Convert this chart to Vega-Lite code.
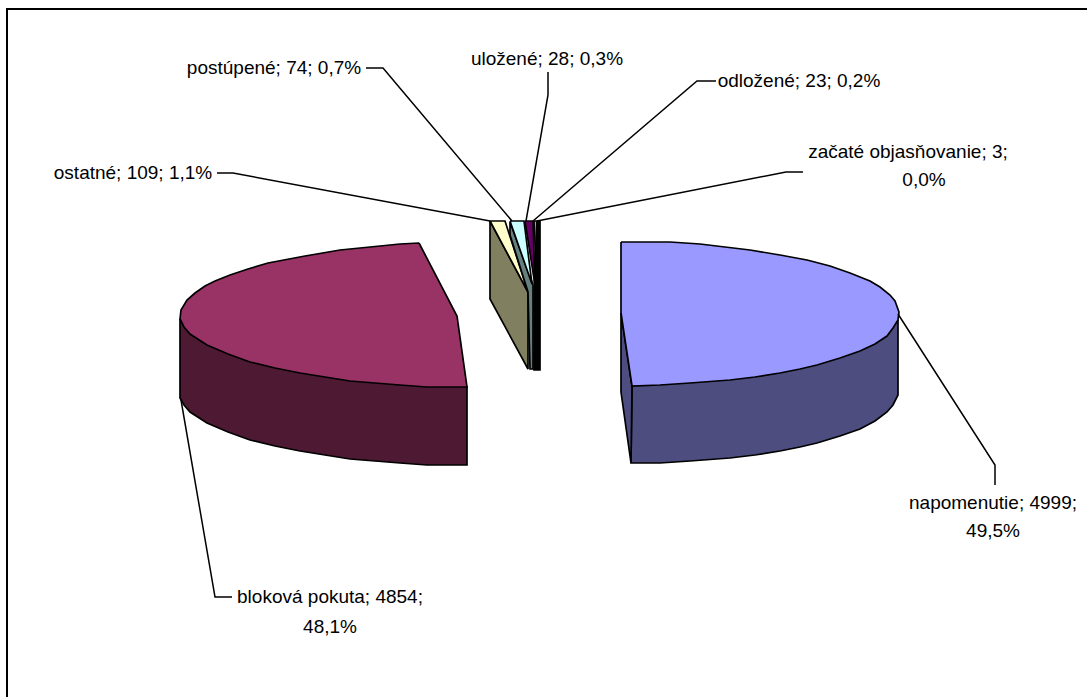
{
"$schema":"https://vega.github.io/schema/vega-lite/v6.json",
"width":1087,"height":697,"padding":0,"autosize":{"type":"none"},
"background":"white",
"config":{"view":{"stroke":null}},
"datasets":{
"shapes":[
{"part":"napomenutie bok","i":1,"x":898,"y":320},{"part":"napomenutie bok","i":2,"x":898,"y":395},{"part":"napomenutie bok","i":3,"x":893,"y":405},{"part":"napomenutie bok","i":4,"x":887,"y":412},{"part":"napomenutie bok","i":5,"x":875,"y":421},{"part":"napomenutie bok","i":6,"x":860,"y":429},{"part":"napomenutie bok","i":7,"x":840,"y":436},{"part":"napomenutie bok","i":8,"x":817,"y":443},{"part":"napomenutie bok","i":9,"x":800,"y":447},{"part":"napomenutie bok","i":10,"x":780,"y":451},{"part":"napomenutie bok","i":11,"x":755,"y":455},{"part":"napomenutie bok","i":12,"x":730,"y":458},{"part":"napomenutie bok","i":13,"x":690,"y":461},{"part":"napomenutie bok","i":14,"x":660,"y":463},{"part":"napomenutie bok","i":15,"x":631,"y":463},{"part":"napomenutie bok","i":16,"x":632,"y":386},{"part":"napomenutie bok","i":17,"x":898,"y":320},
{"part":"napomenutie rez","i":1,"x":621,"y":313},{"part":"napomenutie rez","i":2,"x":632,"y":386},{"part":"napomenutie rez","i":3,"x":631,"y":463},{"part":"napomenutie rez","i":4,"x":621,"y":392},{"part":"napomenutie rez","i":5,"x":621,"y":313},
{"part":"napomenutie","i":1,"x":621,"y":242},{"part":"napomenutie","i":2,"x":670,"y":242},{"part":"napomenutie","i":3,"x":700,"y":244},{"part":"napomenutie","i":4,"x":725,"y":247},{"part":"napomenutie","i":5,"x":750,"y":250},{"part":"napomenutie","i":6,"x":780,"y":255},{"part":"napomenutie","i":7,"x":807,"y":260},{"part":"napomenutie","i":8,"x":830,"y":266},{"part":"napomenutie","i":9,"x":850,"y":273},{"part":"napomenutie","i":10,"x":870,"y":281},{"part":"napomenutie","i":11,"x":880,"y":287},{"part":"napomenutie","i":12,"x":890,"y":295},{"part":"napomenutie","i":13,"x":895,"y":301},{"part":"napomenutie","i":14,"x":899,"y":312},{"part":"napomenutie","i":15,"x":898,"y":320},{"part":"napomenutie","i":16,"x":893,"y":328},{"part":"napomenutie","i":17,"x":887,"y":336},{"part":"napomenutie","i":18,"x":875,"y":344},{"part":"napomenutie","i":19,"x":860,"y":351},{"part":"napomenutie","i":20,"x":840,"y":358},{"part":"napomenutie","i":21,"x":817,"y":365},{"part":"napomenutie","i":22,"x":800,"y":369},{"part":"napomenutie","i":23,"x":780,"y":373},{"part":"napomenutie","i":24,"x":755,"y":377},{"part":"napomenutie","i":25,"x":730,"y":380},{"part":"napomenutie","i":26,"x":690,"y":383},{"part":"napomenutie","i":27,"x":660,"y":385},{"part":"napomenutie","i":28,"x":632,"y":386},{"part":"napomenutie","i":29,"x":621,"y":313},{"part":"napomenutie","i":30,"x":621,"y":242},
{"part":"bloková bok","i":1,"x":180,"y":319},{"part":"bloková bok","i":2,"x":180,"y":398},{"part":"bloková bok","i":3,"x":184,"y":405},{"part":"bloková bok","i":4,"x":190,"y":412},{"part":"bloková bok","i":5,"x":207,"y":423},{"part":"bloková bok","i":6,"x":228,"y":432},{"part":"bloková bok","i":7,"x":250,"y":440},{"part":"bloková bok","i":8,"x":275,"y":446},{"part":"bloková bok","i":9,"x":300,"y":451},{"part":"bloková bok","i":10,"x":325,"y":455},{"part":"bloková bok","i":11,"x":350,"y":459},{"part":"bloková bok","i":12,"x":375,"y":461},{"part":"bloková bok","i":13,"x":400,"y":463},{"part":"bloková bok","i":14,"x":427,"y":465},{"part":"bloková bok","i":15,"x":467,"y":465},{"part":"bloková bok","i":16,"x":467,"y":387},{"part":"bloková bok","i":17,"x":180,"y":319},
{"part":"bloková pokuta","i":1,"x":419,"y":243},{"part":"bloková pokuta","i":2,"x":400,"y":244},{"part":"bloková pokuta","i":3,"x":370,"y":247},{"part":"bloková pokuta","i":4,"x":340,"y":250},{"part":"bloková pokuta","i":5,"x":305,"y":256},{"part":"bloková pokuta","i":6,"x":268,"y":263},{"part":"bloková pokuta","i":7,"x":248,"y":269},{"part":"bloková pokuta","i":8,"x":230,"y":275},{"part":"bloková pokuta","i":9,"x":215,"y":281},{"part":"bloková pokuta","i":10,"x":205,"y":286},{"part":"bloková pokuta","i":11,"x":195,"y":293},{"part":"bloková pokuta","i":12,"x":187,"y":300},{"part":"bloková pokuta","i":13,"x":181,"y":310},{"part":"bloková pokuta","i":14,"x":180,"y":319},{"part":"bloková pokuta","i":15,"x":184,"y":327},{"part":"bloková pokuta","i":16,"x":190,"y":334},{"part":"bloková pokuta","i":17,"x":207,"y":345},{"part":"bloková pokuta","i":18,"x":228,"y":354},{"part":"bloková pokuta","i":19,"x":250,"y":362},{"part":"bloková pokuta","i":20,"x":275,"y":368},{"part":"bloková pokuta","i":21,"x":300,"y":373},{"part":"bloková pokuta","i":22,"x":325,"y":377},{"part":"bloková pokuta","i":23,"x":350,"y":381},{"part":"bloková pokuta","i":24,"x":375,"y":383},{"part":"bloková pokuta","i":25,"x":400,"y":385},{"part":"bloková pokuta","i":26,"x":427,"y":387},{"part":"bloková pokuta","i":27,"x":467,"y":387},{"part":"bloková pokuta","i":28,"x":457,"y":316},{"part":"bloková pokuta","i":29,"x":419,"y":243},
{"part":"ostatné rez","i":1,"x":490,"y":221},{"part":"ostatné rez","i":2,"x":528,"y":292},{"part":"ostatné rez","i":3,"x":528,"y":369},{"part":"ostatné rez","i":4,"x":490,"y":299},{"part":"ostatné rez","i":5,"x":490,"y":221},
{"part":"ostatné","i":1,"x":490,"y":221},{"part":"ostatné","i":2,"x":505,"y":221},{"part":"ostatné","i":3,"x":528,"y":292},{"part":"ostatné","i":4,"x":490,"y":221},
{"part":"postúpené rez","i":1,"x":510,"y":222},{"part":"postúpené rez","i":2,"x":533,"y":285},{"part":"postúpené rez","i":3,"x":533,"y":369},{"part":"postúpené rez","i":4,"x":530,"y":369},{"part":"postúpené rez","i":5,"x":528,"y":292},{"part":"postúpené rez","i":6,"x":510,"y":235},{"part":"postúpené rez","i":7,"x":510,"y":222},
{"part":"postúpené","i":1,"x":510,"y":221},{"part":"postúpené","i":2,"x":524,"y":221},{"part":"postúpené","i":3,"x":532,"y":284},{"part":"postúpené","i":4,"x":510,"y":221},
{"part":"uložené","i":1,"x":525,"y":221},{"part":"uložené","i":2,"x":533,"y":221},{"part":"uložené","i":3,"x":535,"y":285},{"part":"uložené","i":4,"x":525,"y":221},
{"part":"odložené","i":1,"x":534,"y":221},{"part":"odložené","i":2,"x":537,"y":221},{"part":"odložené","i":3,"x":537,"y":287},{"part":"odložené","i":4,"x":534,"y":221},
{"part":"začaté","i":1,"x":537,"y":221},{"part":"začaté","i":2,"x":540,"y":221},{"part":"začaté","i":3,"x":540,"y":370},{"part":"začaté","i":4,"x":534,"y":370},{"part":"začaté","i":5,"x":534,"y":290},{"part":"začaté","i":6,"x":537,"y":221}
],
"leaders":[
{"k":"napomenutie","i":1,"x":898,"y":314},{"k":"napomenutie","i":2,"x":995,"y":465},{"k":"napomenutie","i":3,"x":995,"y":485},
{"k":"bloková","i":1,"x":181,"y":400},{"k":"bloková","i":2,"x":215,"y":597},{"k":"bloková","i":3,"x":232,"y":597},
{"k":"ostatné","i":1,"x":217,"y":173},{"k":"ostatné","i":2,"x":233,"y":173},{"k":"ostatné","i":3,"x":490,"y":221},
{"k":"postúpené","i":1,"x":366,"y":68},{"k":"postúpené","i":2,"x":383,"y":68},{"k":"postúpené","i":3,"x":512,"y":221},
{"k":"uložené","i":1,"x":548,"y":72},{"k":"uložené","i":2,"x":548,"y":95},{"k":"uložené","i":3,"x":526,"y":221},
{"k":"odložené","i":1,"x":716,"y":81},{"k":"odložené","i":2,"x":697,"y":81},{"k":"odložené","i":3,"x":533,"y":221},
{"k":"začaté","i":1,"x":803,"y":172},{"k":"začaté","i":2,"x":786,"y":172},{"k":"začaté","i":3,"x":537,"y":221}
],
"frame":[{"i":1,"x":7,"y":697},{"i":2,"x":7,"y":9},{"i":3,"x":1087,"y":9}],
"labels":[
{"t":"napomenutie; 4999;","x":993,"y":503},{"t":"49,5%","x":993,"y":531},
{"t":"bloková pokuta; 4854;","x":330,"y":597},{"t":"48,1%","x":330,"y":627},
{"t":"ostatné; 109; 1,1%","x":133,"y":173},
{"t":"postúpené; 74; 0,7%","x":274,"y":68},
{"t":"uložené; 28; 0,3%","x":547,"y":59},
{"t":"odložené; 23; 0,2%","x":799,"y":81},
{"t":"začaté objasňovanie; 3;","x":908,"y":152},{"t":"0,0%","x":924,"y":180}
]
},
"layer":[
{"data":{"name":"shapes"},
 "mark":{"type":"line","stroke":"black","strokeWidth":1.7,"strokeJoin":"miter"},
 "encoding":{
  "x":{"field":"x","type":"quantitative","scale":{"domain":[0,1087],"nice":false,"zero":false},"axis":null},
  "y":{"field":"y","type":"quantitative","scale":{"domain":[697,0],"nice":false,"zero":false},"axis":null},
  "order":{"field":"i","type":"ordinal"},
  "detail":{"field":"part"},
  "fill":{"field":"part","type":"nominal","legend":null,"scale":{
    "domain":["napomenutie bok","napomenutie rez","napomenutie","bloková bok","bloková pokuta","ostatné rez","ostatné","postúpené rez","postúpené","uložené","odložené","začaté"],
    "range":["#4d4d80","#4d4d80","#9999ff","#4d1933","#993366","#808060","#ffffcc","#668080","#ccffff","#660066","#ff8080","#000000"]}}
 }},
{"data":{"name":"leaders"},
 "mark":{"type":"line","color":"black","strokeWidth":1.5},
 "encoding":{
  "x":{"field":"x","type":"quantitative","scale":{"domain":[0,1087],"nice":false,"zero":false},"axis":null},
  "y":{"field":"y","type":"quantitative","scale":{"domain":[697,0],"nice":false,"zero":false},"axis":null},
  "order":{"field":"i","type":"ordinal"},
  "detail":{"field":"k"}
 }},
{"data":{"name":"frame"},
 "mark":{"type":"line","color":"black","strokeWidth":2},
 "encoding":{
  "x":{"field":"x","type":"quantitative","scale":{"domain":[0,1087],"nice":false,"zero":false},"axis":null},
  "y":{"field":"y","type":"quantitative","scale":{"domain":[697,0],"nice":false,"zero":false},"axis":null},
  "order":{"field":"i","type":"ordinal"}
 }},
{"data":{"name":"labels"},
 "mark":{"type":"text","font":"Liberation Sans","fontSize":19,"color":"black","align":"center","baseline":"middle"},
 "encoding":{
  "x":{"field":"x","type":"quantitative","scale":{"domain":[0,1087],"nice":false,"zero":false},"axis":null},
  "y":{"field":"y","type":"quantitative","scale":{"domain":[697,0],"nice":false,"zero":false},"axis":null},
  "text":{"field":"t"}
 }}
]
}
